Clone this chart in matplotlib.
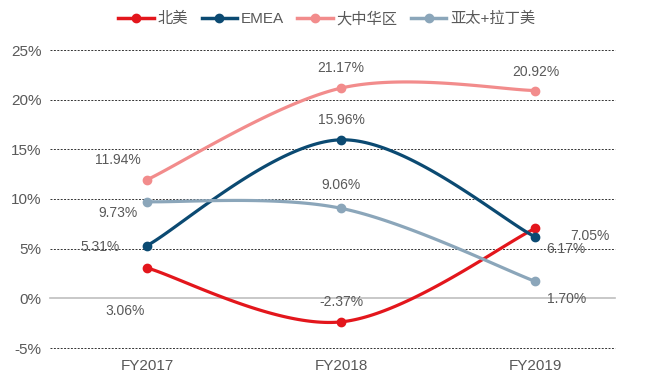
import numpy as np
import matplotlib
matplotlib.use("Agg")
import matplotlib.pyplot as plt
from matplotlib.lines import Line2D

plt.rcParams['font.family'] = ['Liberation Sans', 'Noto Sans CJK SC', 'DejaVu Sans']

categories = ["FY2017", "FY2018", "FY2019"]
series_names = ["北美", "EMEA", "大中华区", "亚太+拉丁美"]
north_america = [3.06, -2.37, 7.05]
emea = [5.31, 15.96, 6.17]
greater_china = [11.94, 21.17, 20.92]
apla = [9.73, 9.06, 1.70]
series_values = [north_america, emea, greater_china, apla]
colors = ["#E3161C", "#0B4A72", "#F28C8C", "#8BA6BA"]
yticks = [-5, 0, 5, 10, 15, 20, 25]

# label offsets in pixels (dx, dy screen-down)
label_offsets = [
    [(-22, 43), (0, -20), (55, 8)],
    [(-47, 1), (0, -20), (30, 12)],
    [(-29, -20), (0, -20), (0, -19)],
    [(-29, 11), (0, -23), (31, 18)],
]

def smooth(xs, ys, n=60):
    P = np.column_stack([xs, ys]).astype(float)
    m = len(P)
    out = []
    for i in range(m - 1):
        p0 = P[max(i - 1, 0)]
        p1 = P[i]
        p2 = P[i + 1]
        p3 = P[min(i + 2, m - 1)]
        c1 = p1 + (p2 - p0) / 6.0
        c2 = p2 - (p3 - p1) / 6.0
        t = np.linspace(0, 1, n)[:, None]
        seg = ((1 - t) ** 3) * p1 + 3 * ((1 - t) ** 2) * t * c1 + 3 * (1 - t) * t ** 2 * c2 + t ** 3 * p2
        out.append(seg if i == 0 else seg[1:])
    arr = np.vstack(out)
    return arr[:, 0], arr[:, 1]

fig = plt.figure(figsize=(6.48, 3.82), dpi=100)
ax = fig.add_axes([50 / 648, 34 / 382, 565 / 648, 298 / 382])

x = np.arange(len(categories))
ax.set_xlim(-0.5, 2.41)
ax.set_ylim(-5, 25)

for yv in yticks:
    if yv == 0:
        ax.axhline(0, color="#BFBFBF", lw=1.2, zorder=1, clip_on=False)
    else:
        ax.axhline(yv, color="#333333", lw=0.7, ls=(0, (2, 1.5)), zorder=1, clip_on=False)

for vals, col, offs in zip(series_values, colors, label_offsets):
    sx, sy = smooth(x, vals)
    ax.plot(sx, sy, color=col, lw=2.3, zorder=3, solid_capstyle='round')
    ax.plot(x, vals, 'o', color=col, ms=6, zorder=4)
    for xi, v, (dx, dy) in zip(x, vals, offs):
        ax.annotate(f"{v:.2f}%", (xi, v), xytext=(dx * 0.72, -dy * 0.72),
                    textcoords="offset points", ha="center", va="center",
                    fontsize=10, color="#595959", zorder=5)

ax.set_yticks(yticks)
ax.set_yticklabels([f"{v}%" for v in yticks], fontsize=11, color="#595959")
ax.set_xticks(x)
ax.set_xticklabels(categories, fontsize=11, color="#595959")
ax.tick_params(length=0, pad=6)
ax.tick_params(axis='x', pad=8)
for s in ax.spines.values():
    s.set_visible(False)

handles = [Line2D([0], [0], color=c, lw=2.5, marker='o', ms=6) for c in colors]
ax.legend(handles, series_names, loc="center", bbox_to_anchor=(0.49, 1.105), ncol=4,
          frameon=False, fontsize=11, handlelength=2.3, columnspacing=0.9,
          handletextpad=0.25, labelcolor="#595959")

fig.savefig("out.png", dpi=100, facecolor="white")
